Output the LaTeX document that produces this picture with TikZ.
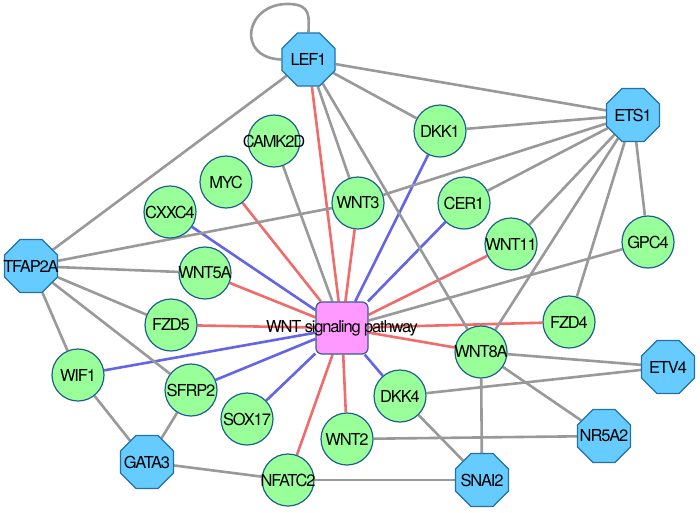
\documentclass[tikz,border=0pt]{standalone}
\usepackage{fontspec}
\setmainfont[LetterSpace=-7]{TeX Gyre Heros}
\usetikzlibrary{shapes.geometric,backgrounds}
\definecolor{octfill}{HTML}{66CCFF}
\definecolor{octline}{HTML}{2470A6}
\definecolor{genefill}{HTML}{99FF99}
\definecolor{geneline}{HTML}{1F5F8F}
\definecolor{hubfill}{HTML}{FF99FF}
\definecolor{hubline}{HTML}{3C5A8C}
\definecolor{edgegray}{HTML}{999999}
\definecolor{edgered}{HTML}{F26B6B}
\definecolor{edgeblue}{HTML}{6464E6}
\begin{document}
\begin{tikzpicture}[x=1pt,y=-1pt,
  oct/.style={regular polygon, regular polygon sides=8, minimum size=57.4pt, inner sep=0pt, draw=octline, fill=octfill, line width=1.2pt},
  gene/.style={circle, minimum size=52pt, inner sep=0pt, draw=geneline, fill=genefill, line width=1.2pt},
  hubbox/.style={rectangle, rounded corners=6pt, minimum size=52pt, inner sep=0pt, draw=hubline, fill=hubfill, line width=1.2pt},
  every label/.style={font=\fontsize{16.5}{18}\selectfont, inner sep=0pt, text=black},
  gedge/.style={draw=edgegray, line width=2.6pt},
  redge/.style={draw=edgered, line width=2.6pt},
  bedge/.style={draw=edgeblue, line width=2.6pt}]
\useasboundingbox (0,0) rectangle (700,512);

% octagon nodes
\node[oct, label=center:LEF1] (LEF1) at (308.5,59.5) {};
\node[oct, label=center:ETS1] (ETS1) at (633,115) {};
\node[oct, label=center:TFAP2A] (TFAP2A) at (31,266) {};
\node[oct, label=center:GATA3] (GATA3) at (147,462) {};
\node[oct, label=center:SNAI2] (SNAI2) at (482,480) {};
\node[oct, label=center:NR5A2] (NR5A2) at (604,436) {};
\node[oct, label=center:ETV4] (ETV4) at (668,367) {};

% hub
\node[hubbox, label=center:{WNT signaling pathway}] (W) at (342,328) {};

% gene nodes
\node[gene, label=center:CAMK2D] (CAMK2D) at (274,141) {};
\node[gene, label=center:MYC] (MYC) at (226,182) {};
\node[gene, label=center:CXXC4] (CXXC4) at (170,212) {};
\node[gene, label=center:DKK1] (DKK1) at (440,131) {};
\node[gene, label=center:WNT3] (WNT3) at (358,203) {};
\node[gene, label=center:CER1] (CER1) at (464,203) {};
\node[gene, label=center:WNT11] (WNT11) at (511,244) {};
\node[gene, label=center:GPC4] (GPC4) at (648,242) {};
\node[gene, label=center:WNT5A] (WNT5A) at (205,273) {};
\node[gene, label=center:FZD5] (FZD5) at (171,325) {};
\node[gene, label=center:FZD4] (FZD4) at (569,322) {};
\node[gene, label=center:WNT8A] (WNT8A) at (481,352) {};
\node[gene, label=center:DKK4] (DKK4) at (400,396) {};
\node[gene, label=center:WIF1] (WIF1) at (78,375) {};
\node[gene, label=center:SFRP2] (SFRP2) at (191,390) {};
\node[gene, label=center:SOX17] (SOX17) at (247,419) {};
\node[gene, label=center:WNT2] (WNT2) at (347,439) {};
\node[gene, label=center:NFATC2] (NFATC2) at (288,480) {};

\begin{pgfonlayer}{background}
\fill[white] (0,0) rectangle (700,512);
% hub edges
\foreach \n in {LEF1,MYC,WNT3,WNT11,WNT5A,FZD5,FZD4,WNT8A,NFATC2,WNT2}
  \draw[redge] (W) -- (\n);
\foreach \n in {CXXC4,DKK1,CER1,WIF1,SFRP2,SOX17,DKK4}
  \draw[bedge] (W) -- (\n);
\foreach \n in {CAMK2D,GPC4}
  \draw[gedge] (W) -- (\n);
% LEF1
\foreach \n in {ETS1,DKK1,WNT3,WNT8A,TFAP2A}
  \draw[gedge] (LEF1) -- (\n);
\draw[gedge] (LEF1.west) .. controls (235,58) and (245,2) .. (290,4) .. controls (312,5) and (308.5,18) .. (LEF1.north);
% ETS1
\foreach \n in {DKK1,WNT3,CER1,WNT11,WNT8A,FZD4,GPC4}
  \draw[gedge] (ETS1) -- (\n);
% TFAP2A
\foreach \n in {WNT3,WNT5A,FZD5,SFRP2,WIF1}
  \draw[gedge] (TFAP2A) -- (\n);
% others
\draw[gedge] (WIF1) -- (GATA3);
\draw[gedge] (SFRP2) -- (GATA3);
\draw[gedge] (GATA3) -- (NFATC2);
\draw[gedge] (NFATC2) -- (SNAI2);
\draw[gedge] (WNT8A) -- (ETV4);
\draw[gedge] (WNT8A) -- (NR5A2);
\draw[gedge] (WNT8A) -- (SNAI2);
\draw[gedge] (DKK4) -- (ETV4);
\draw[gedge] (DKK4) -- (SNAI2);
\draw[gedge] (WNT2) -- (NR5A2);
\end{pgfonlayer}
\end{tikzpicture}
\end{document}
